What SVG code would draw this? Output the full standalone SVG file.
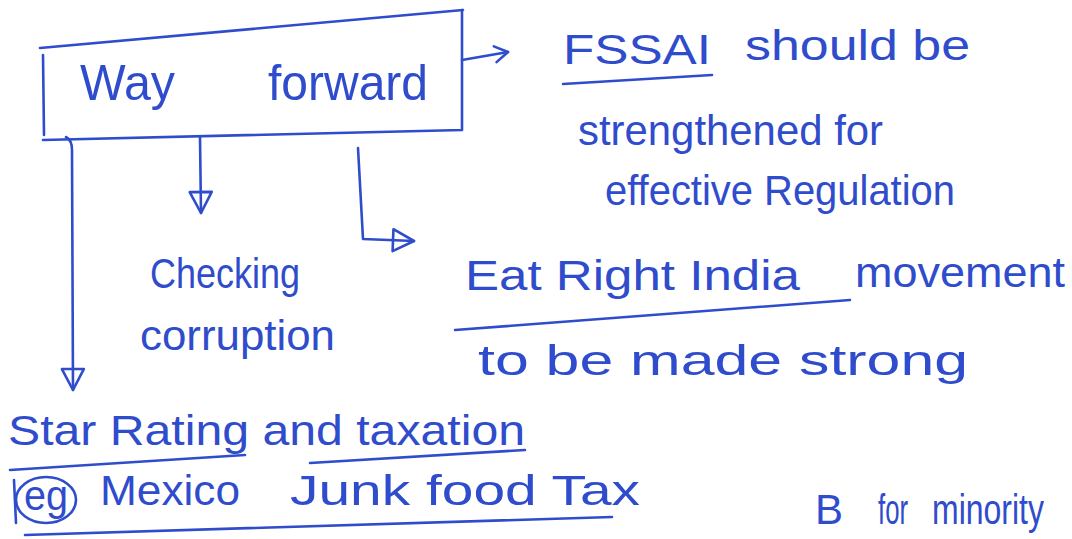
<svg xmlns="http://www.w3.org/2000/svg" width="1072" height="539" viewBox="0 0 1072 539">
  <style>
    .ink { fill: none; stroke: #2f4ccc; stroke-width: 2.6; stroke-linecap: round; stroke-linejoin: round; }
    .t { font-family: "Liberation Sans", "DejaVu Sans", sans-serif; fill: #2f4ccc; font-size: 42px; }
    .big { font-size: 50px; }
  </style>
  <defs>
    <marker id="tri" viewBox="0 0 26 26" refX="24" refY="13" markerWidth="26" markerHeight="26" markerUnits="userSpaceOnUse" orient="auto">
      <path d="M3,2 L24,13 L3,24 Z" fill="none" stroke="#2f4ccc" stroke-width="2.6" stroke-linejoin="round"/>
    </marker>
    <marker id="chev" viewBox="0 0 20 20" refX="17" refY="10" markerWidth="20" markerHeight="20" markerUnits="userSpaceOnUse" orient="auto">
      <path d="M4,2 L17,10 L4,18" fill="none" stroke="#2f4ccc" stroke-width="2.6" stroke-linecap="round" stroke-linejoin="round"/>
    </marker>
  </defs>
  <rect width="1072" height="539" fill="#ffffff"/>

  <g id="way-forward">
    <path class="ink" d="M40,48 L463,10 M462,10 L462,130 L43,140 M43,55 L44,135"/>
    <text class="t big" x="80" y="100" textLength="95" lengthAdjust="spacingAndGlyphs">Way</text>
    <text class="t big" x="268" y="100" textLength="160" lengthAdjust="spacingAndGlyphs">forward</text>
  </g>

  <g id="connectors">
    <path class="ink" d="M462,60 L508,52" marker-end="url(#chev)"/>
    <path class="ink" d="M200,137 L201,213" marker-end="url(#tri)"/>
    <path class="ink" d="M358,148 L363,239 L414,241" marker-end="url(#tri)"/>
    <path class="ink" d="M66,137 Q72,140 72,150 L73,390" marker-end="url(#tri)"/>
  </g>

  <g id="fssai">
    <text class="t" x="563" y="64" textLength="148" lengthAdjust="spacingAndGlyphs">FSSAI</text>
    <path class="ink" d="M563,84 L712,75"/>
    <text class="t" x="745" y="60" textLength="225" lengthAdjust="spacingAndGlyphs">should be</text>
    <text class="t" x="578" y="145" textLength="305" lengthAdjust="spacingAndGlyphs">strengthened for</text>
    <text class="t" x="605" y="205" textLength="350" lengthAdjust="spacingAndGlyphs">effective Regulation</text>
  </g>

  <g id="checking">
    <text class="t" x="150" y="288" textLength="150" lengthAdjust="spacingAndGlyphs">Checking</text>
    <text class="t" x="140" y="350" textLength="195" lengthAdjust="spacingAndGlyphs">corruption</text>
  </g>

  <g id="eat-right">
    <text class="t" x="465" y="290" textLength="335" lengthAdjust="spacingAndGlyphs">Eat Right India</text>
    <path class="ink" d="M455,330 L850,300"/>
    <text class="t" x="855" y="287" textLength="210" lengthAdjust="spacingAndGlyphs">movement</text>
    <text class="t" x="478" y="375" textLength="490" lengthAdjust="spacingAndGlyphs">to be made strong</text>
  </g>

  <g id="star-rating">
    <text class="t" x="8" y="445" textLength="517" lengthAdjust="spacingAndGlyphs">Star Rating and taxation</text>
    <path class="ink" d="M10,470 L245,455 M310,463 L525,450"/>
    <ellipse class="ink" cx="46" cy="500" rx="30" ry="23"/>
    <path class="ink" d="M14,480 L16,523"/>
    <text class="t" x="24" y="510" font-size="34" textLength="44" lengthAdjust="spacingAndGlyphs">eg</text>
    <text class="t" x="100" y="505" textLength="140" lengthAdjust="spacingAndGlyphs">Mexico</text>
    <text class="t" x="290" y="505" textLength="350" lengthAdjust="spacingAndGlyphs">Junk food Tax</text>
    <path class="ink" d="M25,535 L612,517"/>
  </g>

  <g id="bottom-cut">
    <text class="t" x="815" y="524" font-size="24">B</text>
    <text class="t" x="878" y="524" font-size="24" textLength="30" lengthAdjust="spacingAndGlyphs">for</text>
    <text class="t" x="932" y="524" font-size="24" textLength="112" lengthAdjust="spacingAndGlyphs">minority</text>
  </g>
</svg>
